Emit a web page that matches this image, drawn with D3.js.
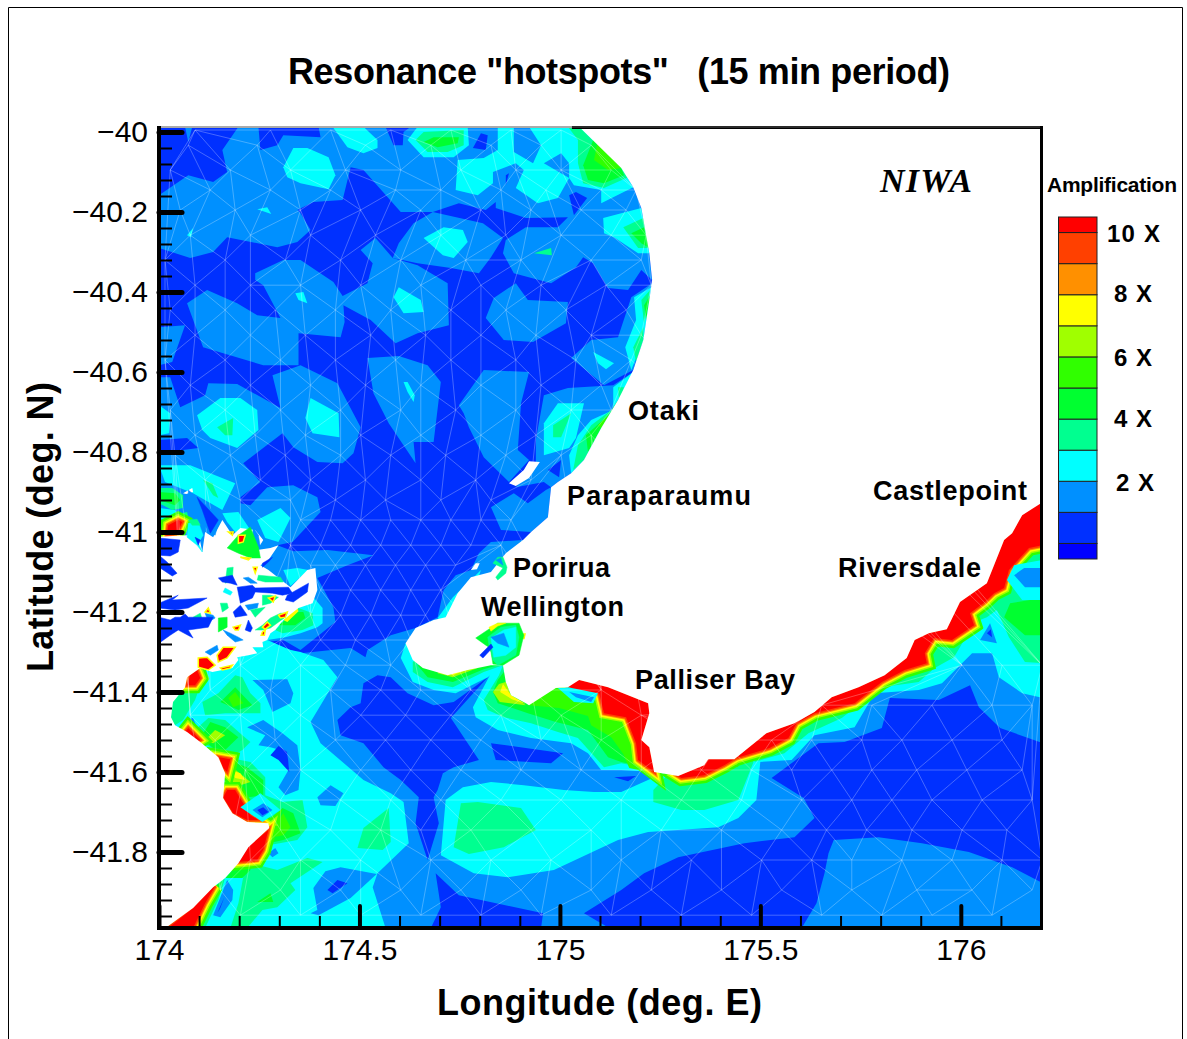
<!DOCTYPE html>
<html><head><meta charset="utf-8">
<style>html,body{margin:0;padding:0;background:#fff;overflow:hidden}svg{display:block}text{font-family:"Liberation Sans",Arial,sans-serif;fill:#000}</style>
<script src="https://cdn.jsdelivr.net/npm/d3@7/dist/d3.min.js"></script></head><body><svg id="c" width="1187" height="1039"></svg>
<script>
// All outlines are flat lists: milli-degrees east of 174E, milli-degrees south of 40S
const levelColors=["#0000ff","#0030ff","#0090ff","#00ffff","#00ff90","#00ff30","#30ff00","#a0ff00","#ffff00","#ff9000","#ff4000","#ff0000"];
const legendEdges=[0,0.5,1.5,2.5,3.5,4.5,5.5,6.5,7.5,8.5,9.5,10.5,11];
const legendLabels=[["10 X",1107,242,53],["8 X",1114,302,38],["6 X",1114,366,38],["4 X",1114,427,38],["2 X",1116,491,38]];
const lonMajor=[174,174.5,175,175.5,176], lonMinor=[174.1,174.2,174.3,174.4,174.6,174.7,174.8,174.9,175.1,175.2,175.3,175.4,175.6,175.7,175.8,175.9,176.1,176.2];
const latMajor=[-40,-40.2,-40.4,-40.6,-40.8,-41,-41.2,-41.4,-41.6,-41.8];
const latMinor=[-40.04,-40.08,-40.12,-40.16,-40.24,-40.28,-40.32,-40.36,-40.44,-40.48,-40.52,-40.56,-40.64,-40.68,-40.72,-40.76,-40.84,-40.88,-40.92,-40.96,-41.04,-41.08,-41.12,-41.16,-41.24,-41.28,-41.32,-41.36,-41.44,-41.48,-41.52,-41.56,-41.64,-41.68,-41.72,-41.76,-41.84,-41.88,-41.92,-41.96];

const azureAreas=[
[198,-13,248,-13,253,45,295,33,310,8,403,13,398,-13,565,-13,585,33,608,33,610,0,628,-13,1048,-13,1153,90,1183,138,1203,190,1223,303,1230,370,1203,345,1170,395,1120,390,1083,328,1058,313,1040,338,978,378,885,353,858,303,865,270,915,238,995,238,1020,213,915,215,840,190,840,175,815,195,748,178,683,200,603,200,510,95,478,88,458,170,385,175,345,195,298,140,353,203,378,245,345,275,295,288,170,263,135,300,78,315,0,290,0,158,73,108,135,125,170,100,158,45],
[65,-13,83,-13,73,25],
[683,200,808,228,858,265,828,313,798,353,728,340,645,328,583,315,598,278,635,228],
[435,375,458,410,520,378,533,328,503,295,540,265,583,315,645,333,720,378,723,483,645,503,590,528,528,470,460,433,463,475,453,513,348,503,348,583,260,583,110,538,70,428,120,395,195,428,245,458,303,465,260,383,240,370,240,353,310,320,353,320],
[815,465,835,415,890,378,920,420,1020,425,1015,478,933,525,860,520],
[0,488,65,483,33,575,0,583],
[1028,565,1078,520,1145,513,1178,413,1230,378,1223,445,1208,520,1183,595,1110,633],
[960,658,1020,640,1133,633,1183,600,1145,670,1103,740,1060,820,1028,853,995,875,978,888,960,875,890,888,940,825,940,770],
[748,683,810,595,923,600,903,678,895,795,923,820,873,875,810,813,773,738,760,703],
[520,565,598,560,670,583,703,625,685,775,635,775,640,828,573,728,535,653],
[828,938,885,903,920,928,965,895,978,888,970,963,928,1000,853,995],
[0,613,28,613,53,688,115,658,123,628,195,630,303,690,283,608,353,583,445,628,503,738,485,803,458,828,395,825,335,788,308,753,210,828,253,875,203,913,203,928,228,933,270,888,335,883,395,913,403,950,333,1025,295,1033,335,1048,420,1045,535,1058,470,1083,395,1115,435,1188,440,1225,353,1295,310,1270,270,1275,353,1303,478,1290,515,1313,520,1295,578,1258,640,1240,695,1213,710,1145,740,1108,778,1095,798,1053,828,1025,908,1020,1353,1170,2205,920,2205,1990,0,1990]];
const blueHoles=[
[783,40,803,3,820,8,815,45],[1023,158,1040,150,1068,165,1035,208],[865,108,873,103,865,133],[970,845,1003,820,998,863],[0,770,70,765,98,790,0,803],
[445,1470,478,1438,503,1428,510,1378,545,1358,578,1363,620,1403,685,1433,735,1425,820,1363,728,1465,798,1570,735,1588,708,1603,695,1645,685,1663,698,1728,670,1820,640,1728,648,1663,603,1620,560,1588,510,1528,453,1508],
[828,1528,1008,1553,978,1578,840,1570],[1135,1613,1190,1610,1170,1623],
[1528,1615,1608,1665,1635,1715,1585,1763,1460,1778,1295,1813,1210,1853,1153,1895,1060,1953,1123,1990,1603,1990,1640,1928,1660,1853,1670,1803,1683,1770,1795,1763,1903,1778,2020,1800,2128,1838,2205,1878,2205,1528,2098,1490,2045,1438,2023,1383,1945,1420,1823,1415,1803,1490,1710,1525,1645,1528],
[690,1853,748,1908,958,1953,953,1990,678,1990,703,1938]];
const cyanAreas=[
[385,1163,408,1190,408,1228,395,1238,353,1253,315,1263,270,1270,328,1295,353,1300,410,1320,445,1363,378,1475,403,1528,510,1620,578,1653,610,1675,623,1778,545,1853,533,1888,565,1990,3,1990,3,1320,265,1220,310,1170],
[703,1808,715,1670,758,1638,828,1625,910,1633,1010,1645,1085,1650,1153,1650,1235,1613,1253,1595,1503,1545,1490,1670,1445,1715,1395,1738,1220,1750,1145,1770,985,1845,870,1863,785,1853],
[858,1333,828,1353,783,1438,790,1463,845,1495,928,1515,1028,1528,1070,1553,1103,1595,1153,1595,1235,1600,1253,1520,1203,1395,1028,1345,903,1395,878,1345],
[1453,1570,1495,1575,1578,1570,1635,1508,1735,1488,1785,1403,1895,1395,1953,1378,2028,1303,2078,1303,2095,1363,2153,1403,2205,1415,2205,870,2103,995,1853,1270,1578,1458,1453,1533],
[615,1278,603,1315,633,1375,685,1395,740,1403,820,1363,858,1333,833,1320,770,1333,720,1345,658,1320,633,1295],
[733,1163,785,1113,803,1095,778,1170,715,1233,695,1215],
[433,-13,510,-13,545,20,545,40,510,53,470,38],[310,88,335,40,370,40,423,63,440,108,423,143,353,128,320,113],[245,193,270,188,280,205],[70,258,85,240,80,263],[340,403,360,400,370,428,348,420],[585,413,598,388,653,420,660,450,610,453],[660,265,710,238,758,245,770,275,735,315,708,308],[95,708,153,665,203,665,245,695,248,745,195,790,128,765,108,745],[365,715,378,665,448,703,450,763,383,753],[610,625,620,625,638,658,635,675,620,650],[0,683,28,703,25,753,0,758],[0,833,78,833,190,878,158,945,85,903,15,875],[620,20,645,-13,770,-13,773,33,735,63,660,63],
[845,-13,885,-13,885,50,933,78,953,33,923,-13,1053,-13,1153,90,1183,138,1103,178,1103,145,1035,133,1023,115,995,165,945,178,890,140,910,95,890,78,833,100,833,128,795,158,740,145,745,70,810,65,845,45],
[1108,215,1203,190,1223,303,1195,303,1135,263,1110,253],[1185,413,1228,388,1208,520,1178,595,1163,538,1190,470],[1083,550,1135,578,1115,593,1095,578],[960,728,995,678,1060,678,1040,765,1023,790,960,808],[1133,638,1183,600,1145,670,1103,740,1060,820,1028,853,1023,808,1045,758,1078,720,1133,695],
[245,970,303,940,328,965,298,1025,265,1015],[158,953,198,950,228,995,190,1000,170,975],[310,1095,345,1090,373,1095,328,1135],[0,940,40,945,48,960,0,970]];
const azureOnCyan=[
[960,78,1003,53,1023,78,1023,115],[233,1370,320,1368,335,1403,328,1428,283,1450,260,1395],
[220,1488,260,1470,308,1503,345,1533,353,1595,348,1645,315,1658,298,1638,323,1595,320,1550,278,1538,248,1533,265,1508,223,1490],
[395,1663,428,1633,460,1653,440,1685,403,1683],[385,1890,415,1848,453,1838,543,1855,478,1915,398,1958,378,1953,395,1945],
[170,1870,185,1895,183,1920,153,1963,135,1958,153,1913],[65,1470,85,1465,95,1490,83,1488],[273,1803,290,1790,298,1803,283,1813]];
const blueOnCyan=[[278,1558,298,1535,320,1550,325,1600,298,1570],[420,1895,445,1870,470,1878,433,1903],[145,1953,163,1913,153,1940]];
const springAreas=[
[640,20,660,0,760,-5,760,33,720,50,670,50],[935,303,978,290,980,308],[1020,-13,1048,-13,1153,90,1170,113,1110,140,1058,128,1045,78,1045,20],[1158,238,1208,215,1223,290,1195,290],[1203,420,1225,395,1210,478],[1183,538,1208,488,1208,520,1190,575],[145,738,185,715,183,758,165,758],[110,870,133,878,148,915,135,908],[983,733,1028,703,1003,763,983,763],[1135,690,1145,670,1103,740,1060,820,1033,845,1045,783,1078,733],[1145,638,1160,638,1148,678],
[108,1425,148,1403,190,1358,208,1363,228,1403,253,1428,253,1453,165,1453,115,1458],[78,1350,115,1350,90,1420,60,1470,40,1483,23,1463,28,1425,65,1388],[90,1495,123,1465,165,1470,208,1508,228,1525,208,1545,178,1563,103,1525,70,1500],
[148,1563,178,1565,228,1575,265,1613,265,1658,308,1675,358,1670,370,1738,345,1770,273,1783,278,1738,260,1725,220,1720,185,1703,160,1663,165,1603],
[210,1863,228,1828,295,1845,370,1815,408,1825,328,1878,340,1895,295,1938,258,1945,220,1990,178,1990,198,1928],[23,1985,85,1940,135,1888,165,1865,148,1920,115,1990],
[495,1790,510,1740,573,1690,578,1775,558,1795],[735,1788,753,1678,795,1675,903,1690,940,1745,860,1788,773,1805],
[858,1333,848,1358,810,1420,820,1445,860,1463,928,1478,995,1500,1045,1515,1110,1588,1153,1578,1240,1595,1253,1520,1203,1395,1028,1345,903,1395,878,1345],
[633,1325,633,1350,670,1375,733,1388,810,1350,858,1333,828,1308,770,1320,720,1333,658,1308],
[1233,1645,1233,1675,1303,1695,1360,1695,1445,1670,1483,1575,1465,1508,1303,1570],
[1485,1575,1560,1553,1620,1503,1703,1465,1803,1388,1895,1375,1935,1340,1983,1313,2035,1225,2065,1213,2090,1195,2120,1263,2160,1325,2205,1328,2205,870,1853,1270,1503,1508],
[0,890,33,890,60,908,60,940,33,945,0,928],[0,988,35,958,70,950,73,963,60,1000,40,1015,0,1015],[290,1245,348,1190,383,1203,385,1233,358,1245,308,1253]];
const greenAreas=[
[660,25,685,13,748,13,745,28,695,38],[1058,83,1085,15,1153,90,1160,108,1110,128,1070,120],[1178,253,1210,238,1223,290,1203,278],[1210,433,1225,408,1215,470],[1135,695,1145,670,1103,740,1070,800,1065,758],
[153,1425,190,1388,233,1433,198,1445],[103,1515,128,1475,165,1488,198,1513,165,1545,135,1540],[165,1595,170,1570,220,1588,260,1620,260,1658,208,1665,163,1645],[273,1733,308,1690,335,1703,353,1753,310,1770,273,1778],[165,1865,198,1828,228,1828,228,1845,208,1865],[245,1925,278,1903,285,1925],[23,1985,85,1940,135,1888,158,1873,133,1920,98,1990],
[0,900,40,903,53,920,40,933,0,920],[645,1333,670,1363,733,1375,810,1343,845,1333,828,1295,703,1320],
[860,1350,845,1370,833,1400,845,1428,920,1453,990,1475,1070,1495,1120,1563,1153,1575,1240,1595,1253,1520,1203,1395,1028,1345,903,1408],
[2108,1213,2123,1178,2205,1165,2205,1258,2160,1258],[298,1233,340,1200,360,1200,365,1215,340,1233]];
const limeAreas=[[923,1433,998,1440,1070,1460,1078,1483,1128,1513,1158,1555,1173,1590,1233,1603,1253,1520,1203,1395,1048,1358,990,1378],[285,1738,310,1703,328,1738,310,1758,285,1763],[173,1415,190,1400,210,1428,185,1438],[1085,70,1095,20,1153,90,1120,95],[1128,700,1145,670,1103,740,1095,733]];
const chartAreas=[[165,1613,183,1588,228,1625,203,1633,165,1633],[115,1520,140,1495,165,1508,135,1528],[695,1353,733,1363,795,1340,778,1320,703,1333],[848,1380,833,1400,850,1425,915,1433,878,1408,865,1375]];
const yellowAreas=[[178,1595,203,1603,215,1620,190,1615],[275,1728,298,1733,283,1758],[715,1348,733,1358,783,1338,765,1320,720,1333],[310,1220,345,1190,348,1198,320,1225],[858,1380,851,1400,880,1418,915,1430,878,1408]];
const orangeAreas=[[168,1610,183,1600,185,1610]];
const redAreas=[
[1020,1385,1048,1370,1120,1388,1220,1428,1223,1453,1203,1520,1223,1538,1235,1600,1195,1570,1190,1528,1165,1463,1110,1453,1098,1403,1048,1403],
[1303,1615,1360,1608,1410,1583,1440,1565,1523,1540,1570,1515,1590,1478,1635,1453,1735,1428,1803,1375,1860,1345,1915,1328,1910,1303,1933,1265,1978,1270,2015,1245,2033,1233,2023,1203,2060,1175,2083,1153,2108,1140,2120,1095,2170,1040,2205,1033,2205,920,2153,958,2128,1003,2108,1020,2065,1128,1998,1175,1965,1243,1920,1253,1885,1270,1865,1315,1810,1358,1745,1388,1678,1413,1635,1450,1585,1478,1515,1503,1435,1568,1370,1568,1360,1583,1295,1610],
[198,1825,220,1788,273,1745,260,1795,245,1820],[150,1563,178,1568,170,1600,160,1590],[160,1663,170,1645,190,1645,228,1708,248,1720,220,1720,185,1703],[70,1383,78,1358,95,1345,103,1365,90,1383],[65,1500,73,1490,103,1520,95,1525],[23,1990,85,1940,133,1890,140,1885,115,1928,85,1990],[20,1008,23,983,48,970,58,975,45,1003]];
const redHalo=[[6,16],[7,11],[8,8],[9,5],[10,3]]; // colour level, band thickness around red
const eastHotspotCyan=[[995,1390,1020,1388,1095,1403,1083,1428,1035,1425],[203,1688,253,1653,303,1695,258,1725],[2035,1283,2073,1208,2103,1295],[2115,1120,2133,1083,2205,1070,2205,1170,2153,1170]];
const eastHotspotAzure=[[1023,1400,1085,1413,1078,1425,1040,1413],[233,1695,260,1678,283,1695,258,1713],[2048,1270,2073,1228,2090,1278],[2133,1108,2158,1090,2205,1090,2205,1138,2160,1138]];
const eastHotspotBlue=[[245,1695,260,1688,273,1700,258,1708],[2065,1253,2075,1243,2078,1263]];
const landEast=[1048,-13,1153,90,1183,138,1203,190,1223,303,1230,370,1223,420,1208,520,1183,595,1145,670,1103,740,1060,820,1028,853,995,875,978,888,970,963,928,1000,908,1020,865,1053,828,1100,778,1113,745,1153,715,1213,685,1220,640,1240,615,1278,633,1320,658,1340,720,1358,770,1345,828,1333,858,1333,865,1375,878,1408,915,1428,923,1433,990,1390,1020,1388,1048,1370,1120,1388,1220,1428,1223,1453,1203,1520,1223,1538,1235,1600,1295,1610,1360,1583,1370,1568,1435,1568,1515,1503,1585,1478,1635,1450,1678,1413,1745,1388,1810,1358,1865,1315,1885,1270,1920,1253,1965,1243,1998,1175,2065,1128,2108,1020,2128,1003,2153,958,2205,925,2230,925,2230,-30,1048,-30];
const landWest=[-20,1013,70,1008,98,1000,108,1050,115,1000,135,1013,158,970,183,1008,203,990,240,995,260,1020,245,1045,278,1040,298,1033,273,1070,253,1083,273,1095,328,1138,370,1095,390,1090,395,1145,383,1178,348,1190,310,1220,290,1245,278,1253,270,1270,258,1275,260,1288,233,1288,245,1303,223,1308,195,1313,198,1320,183,1340,133,1350,103,1340,70,1363,65,1388,35,1425,30,1463,40,1483,70,1500,103,1525,148,1563,165,1603,163,1628,160,1665,183,1703,220,1725,273,1728,275,1740,223,1788,198,1828,165,1865,135,1888,85,1940,23,1985,23,2020,-20,2020];
const landSlivers=[[873,878,910,845,923,823,950,825,923,865,890,885],[60,903,83,890,85,900,68,905],[778,1095,790,1078,800,1078,793,1093]];
const islandBlue=[[0,1015,53,1020,48,1050,28,1060,0,1058],[0,1058,20,1075,45,1103,33,1110,0,1088],[0,1178,48,1158,33,1170,120,1165,73,1190,40,1195,0,1190],[0,1213,28,1220,40,1213,53,1213,65,1205,73,1213,135,1213,123,1238,73,1245,85,1265,48,1245,28,1258,0,1278],[148,1115,183,1108,195,1133,178,1128,158,1125],[195,1138,233,1133,240,1140,323,1138,333,1153,308,1158,283,1153,240,1150,233,1165,203,1178],[320,1158,373,1128,370,1150,335,1175,315,1170],[185,1200,203,1183,220,1208,190,1213],[258,1078,283,1063,273,1075,258,1088],[215,1245,223,1220,233,1240,228,1250]];
const islandAzure=[[115,1203,135,1208,140,1215,123,1225],[215,1183,248,1178,245,1190,223,1195],[160,1245,178,1253,198,1263,210,1270,190,1275,170,1258],[115,1300,145,1283,148,1295,128,1308],[210,1115,223,1113,245,1128,228,1128],[235,988,248,1008,253,1040,235,1040,233,1013],[73,895,153,963,148,978,140,1008,123,995,98,965,73,920]];
const islandCyan=[[165,1140,183,1150,178,1158,160,1150],[73,978,98,975,110,1008,98,1028,108,1050,95,1033,70,1013]];
const islandSpring=[[73,970,95,968,103,983,83,983],[85,1213,103,1203,108,1220,90,1220],[153,1178,170,1178,173,1190,158,1200],[228,1195,265,1188,240,1213],[170,1090,185,1088,183,1120,165,1128],[248,1108,303,1113,310,1125,265,1125,245,1120],[258,1158,278,1158,298,1163,278,1178,258,1183],[240,1245,258,1233,278,1215,303,1203,320,1203,315,1213,278,1240,258,1245]];
const islandGreen=[[148,1215,170,1213,170,1238,148,1250],[170,1040,198,1008,228,988,248,1038,253,1065,228,1065,198,1053]];
const islandInk=[[95,913,148,970,128,1003,108,945],[90,1013,103,1020,98,1033]];
const islandRed=[[98,1315,120,1313,140,1333,123,1345,98,1338],[145,1308,160,1288,190,1288,170,1315,148,1325],[153,1340,183,1333,178,1340,158,1345],[115,1200,123,1190,128,1203],[185,1238,203,1233,198,1245,190,1245],[258,1250,265,1245,263,1258,255,1258],[258,1238,270,1225,278,1233,265,1243],[298,1208,320,1200,315,1213,303,1215],[273,1165,290,1160,285,1175],[235,1088,245,1088,240,1103],[198,1008,215,1008,210,1025,198,1028],[203,1063,228,1065,223,1070],[173,1000,185,1000,183,1008],[908,1255,913,1255,910,1268]];
const harbourGreen=[790,1265,845,1228,898,1228,910,1258,898,1308,858,1333,833,1330,828,1300,823,1288,815,1283];
const harbourSpring=[820,1263,853,1238,890,1233,898,1263,890,1308,845,1333,833,1320,828,1295,823,1283];
const harbourCyan=[828,1265,860,1245,890,1238,890,1288,865,1308,835,1313,833,1300];
const harbourAzure=[828,1263,860,1253,873,1288,845,1278];
const harbourBlue=[800,1308,828,1280,833,1288,808,1315];
const harbourYellow=[823,1238,845,1228,865,1228,845,1235,828,1248];
const poriruaGreen=[833,1078,845,1063,858,1063,868,1088,865,1103,845,1120,840,1113,858,1090];
const poriruaAzure=[840,1070,853,1065,858,1083];
const meshRows=[
[-5,[90,278,428,578,728,878,1003]],[33,[73,245,515,678,828,953,1078]],[95,[28,178,328,465,603,753,890,1003,1128]],[145,[128,278,428,590,703,853,965,1103,1190]],[195,[53,190,353,503,653,803,928,1053,1165]],[258,[78,228,378,540,703,865,1003,1128,1215]],[320,[15,165,315,453,603,765,903,1078,1203]],[383,[90,228,353,503,653,803,953,1115,1228]],[445,[28,165,290,440,578,728,865,1015,1165]],[508,[90,228,365,528,665,803,940,1078,1203]],[570,[15,165,303,440,590,728,890,1040,1178]],[633,[78,228,378,515,653,803,953,1103]],[695,[28,165,303,453,603,740,890,1028,1128]],[758,[90,240,365,503,653,803,940,1078]],[808,[40,178,315,453,578,715,865,1003]],[870,[115,253,378,515,653,790,928]],[920,[203,328,440,565,703,828]],[970,[353,428,503,578,653,728,803,878]],[1033,[328,403,478,553,628,703,778,853]],[1083,[378,440,515,590,665,740]],[1145,[403,478,553,628,703]],[1208,[378,453,528,603,665]],[1270,[303,403,490,565,628]],[1333,[203,353,465,578,2003,2103,2203]],[1395,[128,278,428,553,653,778,928,1103]],[1433,[1653,1778,1928,2078,2178]],[1458,[78,203,353,503,615,728,853,1003,1203]],[1520,[140,290,440,565,678,803,953,1103,1303,1403,1528,1628,1753,1853,1978,2103]],[1595,[215,353,503,628,753,903,1053,1203,1353,1478,1578,1678,1778,1890,2015,2153]],[1670,[303,453,578,703,853,1003,1153,1303,1453,1603,1728,1828,1928,2053,2178]],[1745,[303,428,553,653,778,928,1078,1253,1403,1553,1665,1765,1878,2003,2115]],[1820,[228,353,503,678,828,978,1153,1328,1503,1628,1728,1853,1978,2103,2203]],[1895,[153,303,453,603,753,903,1078,1228,1403,1553,1728,1890,2028,2178]],[1958,[203,353,503,653,803,953,1128,1303,1478,1653,1803,1928,2078]]];
const siteLabels=[["Otaki",628,420,71],["Paraparaumu",567,505,184],["Porirua",513,577,97],["Wellington",481,616,143],["Palliser Bay",635,689,160],["Castlepoint",873,500,154],["Riversdale",838,577,143]];

const svg=d3.select("#c");
const x=d3.scaleLinear([174,176.2],[159,1041]), y=d3.scaleLinear([-41.99,-39.99],[928,128]);
const toPts=f=>d3.range(0,f.length,2).map(i=>[x(174+f[i]/1000),y(-40-f[i+1]/1000)]);
const dOf=f=>d3.line()(toPts(f))+"Z";
svg.append("path").attr("d","M8.5,1039V7.5H1182.5V1039").attr("fill","none").attr("stroke","#000");
svg.append("clipPath").attr("id","plot").append("rect").attr("x",159).attr("y",128).attr("width",882).attr("height",800);
const g=svg.append("g").attr("clip-path","url(#plot)");
g.append("rect").attr("x",159).attr("y",128).attr("width",882).attr("height",800).attr("fill",levelColors[1]);
const paint=(list,level)=>g.selectAll(null).data(list).join("path").attr("d",dOf).attr("fill",levelColors[level]);
paint(azureAreas,2);paint(blueHoles,1);paint(cyanAreas,3);paint(azureOnCyan,2);paint(blueOnCyan,1);
paint(springAreas,4);paint(greenAreas,5);paint(limeAreas,6);paint(chartAreas,7);paint(yellowAreas,8);paint(orangeAreas,9);
redHalo.forEach(([lv,w])=>g.selectAll(null).data(redAreas).join("path").attr("d",dOf).attr("fill",levelColors[lv]).attr("stroke",levelColors[lv]).attr("stroke-width",w).attr("stroke-linejoin","miter"));
paint(redAreas,11);paint(eastHotspotCyan,3);paint(eastHotspotAzure,2);paint(eastHotspotBlue,1);
// triangular mesh over the nodes
const nodes=meshRows.flatMap(([b,as])=>as.flatMap(a=>[a,b]));
const meshPts=toPts(nodes);
g.append("path").attr("d",d3.Delaunay.from(meshPts).render()).attr("fill","none").attr("stroke","#fff").attr("stroke-opacity",0.27).attr("stroke-width",1);
// land
paint([landEast,landWest],-1).attr("fill","#fff");
g.selectAll(null).data(landSlivers).join("path").attr("d",dOf).attr("fill","#fff");
// Marlborough Sounds fragments, Wellington Harbour, Porirua
const spot=(list,lv)=>g.selectAll(null).data(list).join("path").attr("d",dOf).attr("fill",levelColors[lv]).attr("stroke",levelColors[lv]).attr("stroke-width",0.5);
spot(islandAzure,2);spot(islandCyan,3);spot(islandSpring,4);spot(islandGreen,5);spot(islandBlue,1);spot(islandInk,1);
g.selectAll(null).data(islandRed).join("path").attr("d",dOf).attr("fill",levelColors[11]).attr("stroke",levelColors[8]).attr("stroke-width",1.5);
spot([harbourGreen],5);spot([harbourSpring],4);spot([harbourCyan],3);spot([harbourAzure],2);spot([harbourBlue],1);spot([harbourYellow],8);spot([poriruaGreen],4);spot([poriruaAzure],2);
// axes
svg.append("line").attr("x1",x(175.03)).attr("x2",1042).attr("y1",127.5).attr("y2",127.5).attr("stroke","#000").attr("stroke-width",3);
svg.append("line").attr("x1",159).attr("x2",1042).attr("y1",127).attr("y2",127).attr("stroke","#555").attr("stroke-width",1);
svg.append("line").attr("x1",1041.5).attr("x2",1041.5).attr("y1",126).attr("y2",930).attr("stroke","#000").attr("stroke-width",3);
const style=(a,w)=>{a.select(".domain").remove();a.selectAll("line").attr("stroke","#000").attr("stroke-width",w);};
const bMinor=svg.append("g").attr("transform","translate(0,928)").call(d3.axisBottom(x).tickValues(lonMinor).tickSize(-12).tickFormat(""));style(bMinor,2);
const lMinor=svg.append("g").attr("transform","translate(159,0)").call(d3.axisLeft(y).tickValues(latMinor).tickSize(-13).tickFormat(""));style(lMinor,2);
const bMajor=svg.append("g").attr("transform","translate(0,928)").call(d3.axisBottom(x).tickValues(lonMajor).tickSize(-22).tickPadding(-14).tickFormat(d3.format("")));style(bMajor,4);
bMajor.selectAll("line").attr("stroke-linecap","round");
bMajor.selectAll("text").attr("font-size",30).attr("font-family","Liberation Sans").attr("fill","#000").attr("dy",0).attr("y",32);
const lMajor=svg.append("g").attr("transform","translate(159,0)").call(d3.axisLeft(y).tickValues(latMajor).tickSize(-23).tickFormat(d3.format("")));style(lMajor,5);
lMajor.selectAll("line").attr("stroke-linecap","round");
lMajor.selectAll("text").attr("font-size",30).attr("font-family","Liberation Sans").attr("fill","#000").attr("x",-11).attr("dy",".33em");
svg.append("line").attr("x1",159).attr("x2",159).attr("y1",126).attr("y2",930).attr("stroke","#000").attr("stroke-width",4);
svg.append("line").attr("x1",157).attr("x2",1043).attr("y1",928).attr("y2",928).attr("stroke","#000").attr("stroke-width",4);
// text
const T=(s,px,py,w,fs,extra={})=>{const t=svg.append("text").attr("x",px).attr("y",py).attr("font-size",fs).attr("font-weight","bold").attr("textLength",w).attr("lengthAdjust","spacing").attr("xml:space","preserve").style("white-space","pre").text(s);Object.entries(extra).forEach(([k,v])=>t.attr(k,v));return t;};
T('Resonance "hotspots"   (15 min period)',288,84,662,36);
T("Longitude (deg. E)",437,1015,325,36);
T("Latitude (deg. N)",0,0,290,36,{transform:"translate(53,672) rotate(-90)"});
siteLabels.forEach(d=>T(d[0],d[1],d[2],d[3],27));
T("NIWA",880,192,92,34,{"font-style":"italic"}).style("font-family","'Liberation Serif',serif");
T("Amplification",1047,192,130,21);
// legend
const ly=d3.scaleLinear([0,11],[559,217]);
svg.selectAll(null).data(d3.pairs(legendEdges)).join("rect").attr("x",1058.5).attr("width",38.5).attr("y",d=>ly(d[1])).attr("height",d=>ly(d[0])-ly(d[1])).attr("fill",(d,i)=>levelColors[i]).attr("stroke","#222").attr("stroke-width",1);
legendLabels.forEach(d=>T(d[0],d[1],d[2],d[3],24));
</script></body></html>
